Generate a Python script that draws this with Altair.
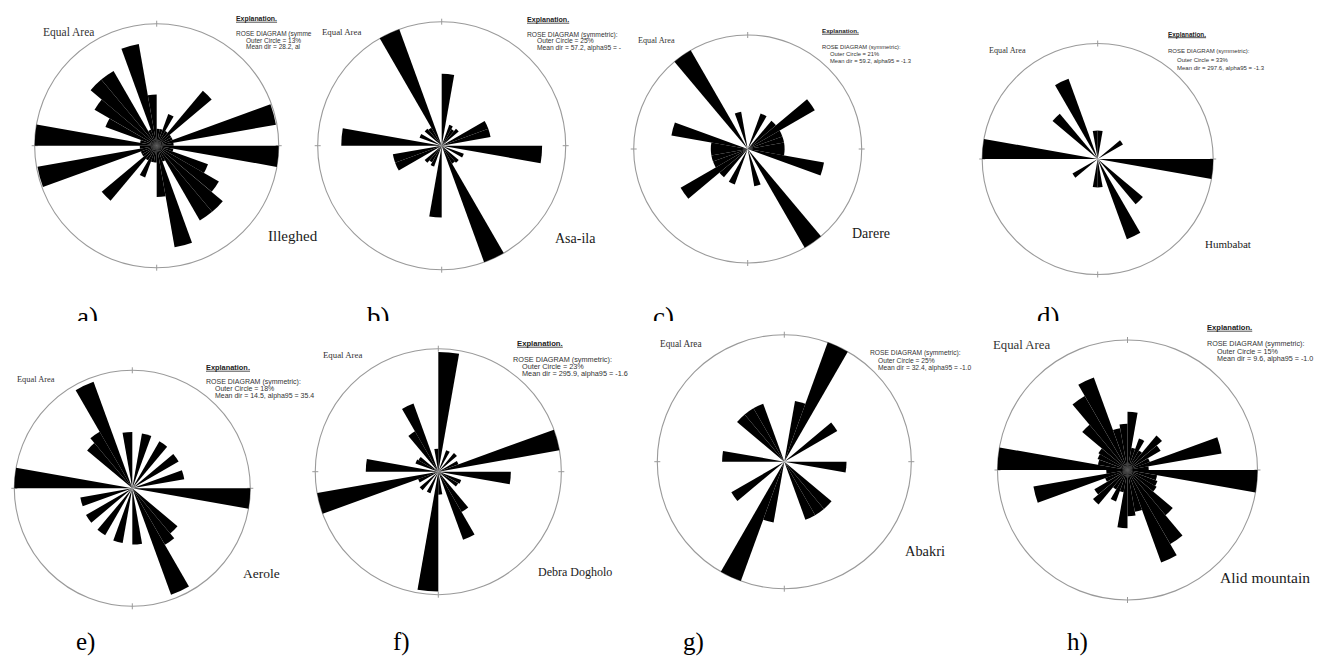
import math
import pandas as pd
import altair as alt

OFF = 8  # page margin

# ---------------- data (percent per 10-degree bin, 0..170; symmetric) -------------
BINS = list(range(0, 180, 10))
VAL_A = [0.25, 0.25, 1.0, 0.25, 4.5, 0.25, 0.25, 12.8, 0.25, 13.0, 0.25, 2.6, 4.5, 6.5, 6.5, 0.25, 9.3, 2.3]
VAL_B = [8.4, 0, 0.8, 0.6, 0.8, 0, 4.0, 4.0, 0, 16.4, 0, 0.9, 0, 0.8, 0.7, 25.0, 0, 0]
VAL_C = [0, 0, 2.3, 0, 2.2, 9.7, 2.2, 2.2, 2.2, 2.2, 9.7, 0, 0, 0, 21.0, 0, 2.3, 0]
VAL_D = [2.0, 0, 0, 0, 0, 2.1, 0, 0, 0, 33.0, 0, 0, 0, 8.6, 0, 18.0, 0, 2.0]
VAL_E = [0, 4.0, 0, 3.8, 0, 3.7, 0, 3.6, 0, 18.0, 0, 0, 0, 4.5, 5.5, 16.6, 0, 4.1]
VAL_F = [21.8, 0, 0.8, 0, 0.9, 0, 0.7, 23.0, 0, 8.0, 0, 0.9, 0.8, 0, 3.3, 8.0, 0, 0.8]
VAL_G = [0, 5.9, 25.0, 0, 0, 5.8, 0, 0, 0, 6.0, 0, 0, 0, 5.9, 5.9, 5.9, 0, 0]
VAL_H = [3.0, 0.45, 1.0, 0.45, 1.8, 1.3, 0.5, 8.1, 0.4, 15.0, 0.8, 0.9, 1.0, 3.1, 6.5, 8.6, 1.6, 1.9]
VALUES = [VAL_A, VAL_B, VAL_C, VAL_D, VAL_E, VAL_F, VAL_G, VAL_H]

SITES = ["Illeghed", "Asa-ila", "Darere", "Humbabat", "Aerole", "Debra Dogholo", "Abakri", "Alid mountain"]
OUTER = [13, 25, 21, 33, 18, 23, 25, 15]
MEAN_DIR = ["28.2", "57.2", "59.2", "297.6", "14.5", "295.9", "32.4", "9.6"]
ALPHA95 = ["", "-", "-1.3", "-1.3", "35.4", "-1.6", "-1.0", "-1.0"]
LABELS = ["a)", "b)", "c)", "d)", "e)", "f)", "g)", "h)"]

# ---------------- layout (image pixel coordinates) ----------------
CX = [156.7, 441.7, 747.7, 1097.7, 132.3, 438.3, 784.3, 1127.5]
CY = [145.7, 145.7, 149.0, 159.0, 488.3, 471.7, 461.7, 470.0]
RAD = [122, 124, 114, 115.5, 118, 123, 127, 130]
EA = [(43, 36, 11.5), (322, 35, 8.8), (638, 42.5, 8.2), (989, 52.5, 8.2),
      (17, 381.5, 8.4), (323, 358, 8.8), (660, 347, 9.3), (993, 349, 12.8)]
SITE_POS = [(268, 241, 15), (555, 243, 14), (852, 238, 14), (1205, 248, 11),
            (243, 578, 13.5), (538, 576, 12), (905, 556, 14.4), (1220, 583, 15.5)]
# explanation: (x, y_expl or None, x_rose, y_rose, x_sub, y_outer, y_mean, size, clip_rose, clip_mean)
EXPL = [(236, 21, 236, 36, 246, 42.5, 49, 6.5, 19, 20),
        (527, 22, 527, 37, 537, 43, 49.5, 6.7, None, 30),
        (822, 33, 822, 49, 830, 56, 62.5, 5.8, None, None),
        (1168, 36.5, 1168, 53, 1177, 62, 70, 6.0, None, None),
        (206, 370, 206, 384, 215, 390.5, 398, 7.0, None, None),
        (517, 346, 513, 361.5, 522, 369, 375.5, 7.3, None, None),
        (870, None, 870, 355, 878, 362.5, 370, 6.7, None, None),
        (1207, 330, 1207, 346, 1217, 353.5, 360.5, 7.2, None, None)]
LAB_POS = [(77, 326), (367, 326), (653, 326), (1037, 326),
           (76, 650), (393, 650), (683, 650), (1067, 650)]

SERIF = "Liberation Serif"
SANS = "Liberation Sans"

XP = alt.X("x:Q", scale=None, axis=None)
YP = alt.Y("y:Q", scale=None, axis=None)

layers_top = []
layers = []

# panel labels of the top row (partly hidden by the lower images)
top_lab = pd.DataFrame([dict(x=LAB_POS[i][0] - OFF, y=LAB_POS[i][1] - OFF, text=LABELS[i]) for i in range(4)])
layers_top.append(alt.Chart(top_lab).mark_text(font=SERIF, fontSize=27, align="left", baseline="alphabetic", color="black")
                  .encode(x=XP, y=YP, text="text:N"))
cover = alt.Chart(pd.DataFrame({"k": [0]})).mark_rect(color="white").encode(
    x=alt.value(0), x2=alt.value(1323), y=alt.value(321 - OFF), y2=alt.value(338 - OFF))
layers_top.append(cover)

# circles
circ = pd.DataFrame(dict(cx=[c - OFF for c in CX], cy=[c - OFF for c in CY], R=RAD))
layers.append(alt.Chart(circ).mark_arc(theta=0, theta2=2 * math.pi, filled=False, stroke="#9a9a9a", strokeWidth=1.1)
              .encode(x=alt.X("cx:Q", scale=None, axis=None), y=alt.Y("cy:Q", scale=None, axis=None),
                      radius=alt.Radius("R:Q", scale=None, stack=False)))

# ticks N E S W
ticks = []
for i in range(8):
    cx, cy, r = CX[i] - OFF, CY[i] - OFF, RAD[i]
    ticks += [dict(x=cx, x2=cx, y=cy - r - 3, y2=cy - r + 3), dict(x=cx, x2=cx, y=cy + r - 3, y2=cy + r + 3),
              dict(x=cx - r - 3, x2=cx - r + 3, y=cy, y2=cy), dict(x=cx + r - 3, x2=cx + r + 3, y=cy, y2=cy)]
layers.append(alt.Chart(pd.DataFrame(ticks)).mark_rule(color="#9a9a9a", strokeWidth=1)
              .encode(x=XP, x2="x2:Q", y=YP, y2="y2:Q"))

# rose petals
for i in range(8):
    rows = []
    for b, v in zip(BINS, VALUES[i]):
        if v > 0:
            for add in (0, 180):
                rows.append(dict(t0=math.radians(b + add), t1=math.radians(b + add + 10), pct=v))
    df = pd.DataFrame(rows)
    layers.append(alt.Chart(df).mark_arc(color="black")
                  .encode(theta=alt.Theta("t0:Q", scale=None, stack=False), theta2="t1:Q",
                          radius=alt.Radius("pct:Q", stack=False,
                                            scale=alt.Scale(type="sqrt", domain=[0, OUTER[i]], range=[0, RAD[i]])),
                          x=alt.value(CX[i] - OFF), y=alt.value(CY[i] - OFF)))

# "Equal Area"
ea = pd.DataFrame([dict(x=EA[i][0] - OFF, y=EA[i][1] - OFF, fs=EA[i][2], text="Equal Area") for i in range(8)])
layers.append(alt.Chart(ea).mark_text(font=SERIF, align="left", baseline="alphabetic", color="#333333")
              .encode(x=XP, y=YP, size=alt.Size("fs:Q", scale=None, legend=None), text="text:N"))

# site names
st = pd.DataFrame([dict(x=SITE_POS[i][0] - OFF, y=SITE_POS[i][1] - OFF, fs=SITE_POS[i][2], text=SITES[i]) for i in range(8)])
layers.append(alt.Chart(st).mark_text(font=SERIF, align="left", baseline="alphabetic", color="#1a1a1a")
              .encode(x=XP, y=YP, size=alt.Size("fs:Q", scale=None, legend=None), text="text:N"))

# explanation blocks
expl_rows, tiny_rows, ul_rows = [], [], []
for i in range(8):
    x0, ye, xr, yr, xs, yo, ym, fs, clip_r, clip_m = EXPL[i]
    if ye is not None:
        efs = fs + 0.4
        expl_rows.append(dict(x=x0 - OFF, y=ye - OFF, fs=efs, text="Explanation."))
        ul_rows.append(dict(x=x0 - OFF, x2=x0 - OFF + 5.95 * efs, y=ye - OFF + 1.2))
    rose = "ROSE DIAGRAM (symmetric):"
    mean = "Mean dir = " + MEAN_DIR[i] + ",  alpha95 = " + ALPHA95[i]
    if clip_r:
        rose = rose[:clip_r]
    if clip_m:
        mean = mean[:clip_m]
    tiny_rows += [dict(x=xr - OFF, y=yr - OFF, fs=fs, text=rose),
                  dict(x=xs - OFF, y=yo - OFF, fs=fs, text="Outer Circle =  " + str(OUTER[i]) + "%"),
                  dict(x=xs - OFF, y=ym - OFF, fs=fs, text=mean)]

layers.append(alt.Chart(pd.DataFrame(expl_rows)).mark_text(font=SANS, fontWeight="bold", align="left",
                                                           baseline="alphabetic", color="#222222")
              .encode(x=XP, y=YP, size=alt.Size("fs:Q", scale=None, legend=None), text="text:N"))
layers.append(alt.Chart(pd.DataFrame(ul_rows)).mark_rule(color="#222222", strokeWidth=0.8)
              .encode(x=XP, x2="x2:Q", y=YP))
layers.append(alt.Chart(pd.DataFrame(tiny_rows)).mark_text(font=SANS, align="left", baseline="alphabetic", color="#333333")
              .encode(x=XP, y=YP, size=alt.Size("fs:Q", scale=None, legend=None), text="text:N"))

# bottom row panel labels
bot_lab = pd.DataFrame([dict(x=LAB_POS[i][0] - OFF, y=LAB_POS[i][1] - OFF, text=LABELS[i]) for i in range(4, 8)])
layers.append(alt.Chart(bot_lab).mark_text(font=SERIF, fontSize=25, align="left", baseline="alphabetic", color="black")
              .encode(x=XP, y=YP, text="text:N"))

chart = (alt.layer(*(layers_top + layers))
         .resolve_scale(radius="independent")
         .properties(width=1323, height=650, padding=0, autosize="none")
         .configure_view(stroke=None))

chart.save("out.html", embed_options={"renderer": "svg", "actions": False})
